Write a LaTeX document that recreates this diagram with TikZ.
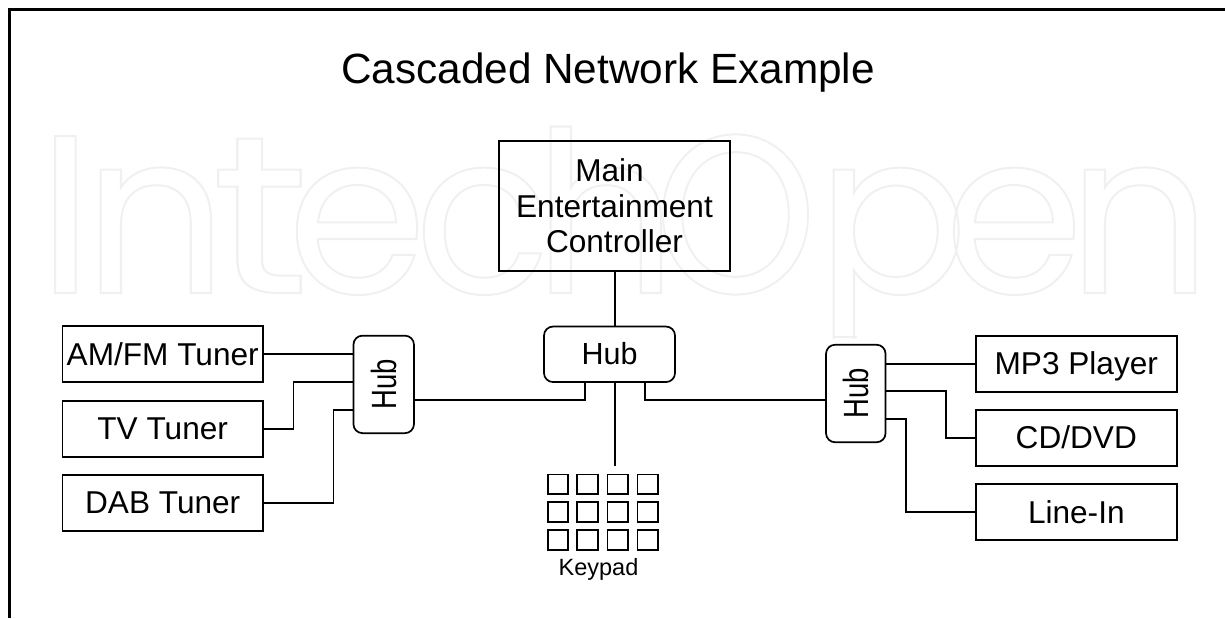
\documentclass[tikz,border=0pt]{standalone}
\usepackage{fontspec}
\setmainfont{Liberation Sans}
\newfontfamily\wmfont{Poppins}
\newcommand{\fsz}[2]{\fontsize{#1}{#2}\selectfont}
\newcommand{\wl}[2]{\makebox[#1pt][l]{\special{pdf:code q 1 Tr 2 w 0.94 G}#2\special{pdf:code Q}}}
\definecolor{wmgray}{gray}{0.94}
\tikzset{
  box/.style={draw=black,line width=1.9pt,rectangle,inner sep=0pt,minimum width=#1,minimum height=56pt,text height=22pt,text depth=0pt,font=\fsz{31.6}{35}},
  hubbox/.style={draw=black,line width=1.7pt,rectangle,rounded corners=9pt,inner sep=0pt,font=\fsz{30.5}{35}},
  conn/.style={draw=black,line width=1.9pt,line join=miter},
  frameline/.style={draw=black,line width=3pt},
  keybox/.style={draw=black,line width=1.8pt,rectangle,inner sep=0pt,minimum width=20.5pt,minimum height=19.5pt},
}
\begin{document}
\begin{tikzpicture}[x=1pt,y=-1pt]
\useasboundingbox (0,0) rectangle (1225,618);
% watermark
\begin{scope}
\clip (0,0) rectangle (1225,338);
\node[anchor=base west,inner sep=0pt] (wm) at (37.6,293) {\wmfont\fontsize{225}{225}\selectfont\wl{45.4}{I}\wl{128}{n}\wl{76}{\scalebox{1.2}[1]{t}}\wl{127}{e}\wl{119}{c}\wl{121}{h}\wl{162}{\scalebox{.92}[1]{O}}\wl{128}{p}\wl{123}{e}\wl{130}{n}};
\end{scope}
\draw[wmgray,line width=2pt] (833,337) -- (857,337);
% frame
\coordinate (fa) at (9.5,618);
\coordinate (fb) at (9.5,9.5);
\coordinate (fc) at (1225,9.5);
\draw[frameline] (fa) -- (fb) -- (fc);
% title
\node[anchor=base,inner sep=0pt,font=\fsz{42.3}{46}] (title) at (608,83) {Cascaded Network Example};
% main
\node[draw=black,line width=1.9pt,inner sep=0pt,minimum width=231pt,minimum height=130pt,align=center,font=\fsz{31.6}{35.3}] (main) at (614.5,206) {Main\hspace*{10pt}\\Entertainment\\Controller};
% hubs
\node[hubbox,minimum width=131pt,minimum height=55.5pt,text height=21pt,text depth=0pt] (chub) at (609.5,354.3) {Hub};
\node[hubbox,minimum width=60.5pt,minimum height=97.5pt] (lhub) at (383.7,384.4) {\rotatebox{90}{\scalebox{.9}[1.15]{Hub}}};
\node[hubbox,minimum width=59.5pt,minimum height=97.5pt] (rhub) at (855.8,393.5) {\rotatebox{90}{\scalebox{.9}[1.15]{Hub}}};
% left boxes
\node[box=200.5pt] (am) at (162.7,354) {AM/FM Tuner};
\node[box=200.5pt] (tv) at (162.7,428.6) {TV Tuner};
\node[box=200.5pt] (dab) at (162.7,502.8) {DAB Tuner};
% right boxes
\node[box=201.5pt] (mp3) at (1076.3,363.6) {MP3 Player};
\node[box=201.5pt] (cd) at (1076.3,437.8) {CD/DVD};
\node[box=201.5pt] (line) at (1076.3,512) {Line-In};
% keypad
\foreach \r/\yy in {a/484.3,b/512,c/540}{
  \foreach \c/\xx in {1/558,2/587.5,3/617.7,4/647.8}{
    \node[keybox] (k\r\c) at (\xx,\yy) {};
  }
}
\node[anchor=base,inner sep=0pt,font=\fsz{23.5}{26}] (keypad) at (598.5,575) {Keypad};
% connector ports
\coordinate (lp2) at (353.5,381.7);
\coordinate (lp3) at (353.5,409.7);
\coordinate (cl) at (585,382);
\coordinate (cr) at (644.7,382);
\coordinate (rp2) at (885.5,391.3);
\coordinate (rp3) at (885.5,419);
\coordinate (kend) at (615,465.7);
\coordinate (chtop) at (615,326.6);
\coordinate (chbot) at (615,382);
\coordinate (lhr) at (414,400.4);
\coordinate (rhl) at (826,400.4);
% connectors
\draw[conn] (main.south -| chtop) -- (chtop);
\draw[conn] (chbot) -- (kend);
\draw[conn] (am.east) -- (am.east -| lhub.west);
\draw[conn] (tv.east) -- (293.5,428.6) -- (293.5,381.7) -- (lp2);
\draw[conn] (dab.east) -- (333.5,502.8) -- (333.5,409.7) -- (lp3);
\draw[conn] (lhr) -| (cl);
\draw[conn] (rhl) -| (cr);
\draw[conn] (mp3.west) -- (mp3.west -| rhub.east);
\draw[conn] (cd.west) -- (946,437.8) -- (946,391.3) -- (rp2);
\draw[conn] (line.west) -- (906,512) -- (906,419) -- (rp3);
\end{tikzpicture}
\end{document}
